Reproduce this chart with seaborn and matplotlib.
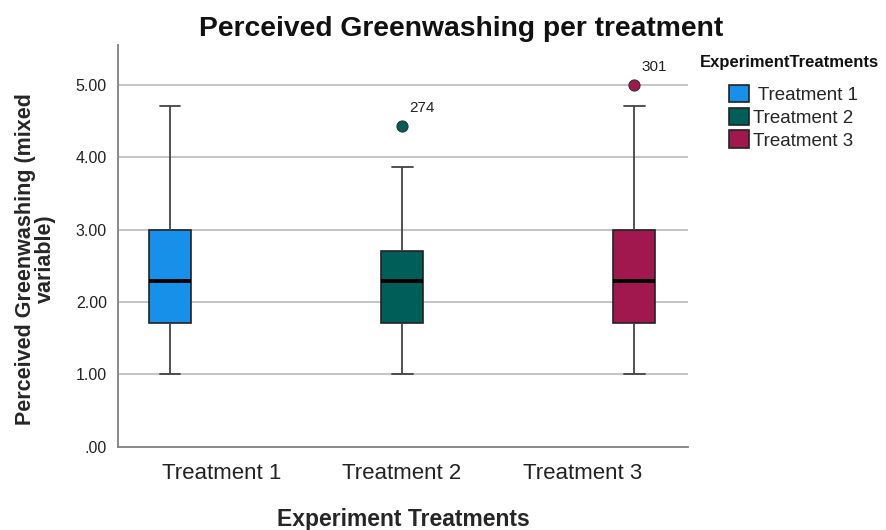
import matplotlib
matplotlib.use("Agg")
import matplotlib.pyplot as plt
import matplotlib.ticker as mticker
import pandas as pd
import seaborn as sns

# ------------------------------------------------------------------ #
# Data                              #
# ------------------------------------------------------------------ #
treatments = ["Treatment 1", "Treatment 2", "Treatment 3"]
legend_labels = [" Treatment 1", "Treatment 2", "Treatment 3"]
mins = [1.00, 1.00, 1.00]
q1s = [1.71, 1.71, 1.71]
medians = [2.29, 2.29, 2.29]
q3s = [3.00, 2.71, 3.00]
whisker_hi = [4.71, 3.86, 4.71]
outliers = [None, 4.43, 5.00]
outlier_ids = ["", "274", "301"]

colors = ["#1690E8", "#005E58", "#A0184E"]
yticks = [0, 1, 2, 3, 4, 5]

# build a small table whose quartiles reproduce the summary above
rows = []
for t, lo, a, m, b, hi, out in zip(treatments, mins, q1s, medians, q3s, whisker_hi, outliers):
    top = hi if out is None else out
    for v in [lo, a, a, m, m, b, b, hi, top]:
        rows.append({"treatment": t, "value": v})
df = pd.DataFrame(rows)

sns.set_style("white")
plt.rcParams["font.family"] = ["Liberation Sans", "DejaVu Sans"]

fig = plt.figure(figsize=(8.87, 5.30), dpi=100)
ax = fig.add_axes([0.133, 0.157, 0.643, 0.758])

sns.boxplot(
    data=df, x="treatment", y="value", hue="treatment",
    order=treatments, hue_order=treatments, palette=colors, saturation=1,
    dodge=False, width=0.18, whis=1.5, linewidth=1.2, linecolor="#222222",
    medianprops={"color": "black", "linewidth": 2.8},
    whiskerprops={"color": "#444444", "linewidth": 1.3},
    capprops={"color": "#444444", "linewidth": 1.3},
    showfliers=False, legend=True, ax=ax, zorder=3,
)

# outliers, drawn in the colour of their box and labelled with case id
for i, (out, cid) in enumerate(zip(outliers, outlier_ids)):
    if out is None:
        continue
    ax.plot(i, out, "o", ms=8, mfc=colors[i], mec="#333333", mew=0.8, zorder=5, clip_on=False)
    ax.annotate(cid, (i, out), xytext=(5, 10), textcoords="offset points",
                fontsize=11, color="#222222")

ax.set_ylim(0, 5.55)
ax.set_xlim(-0.224, 2.233)
ax.set_yticks(yticks)
ax.yaxis.set_major_formatter(mticker.FuncFormatter(
    lambda v, p: f"{v:.2f}"[1:] if v == 0 else f"{v:.2f}"))
ax.set_xticks([0.224, 1.0, 1.776], treatments)
ax.tick_params(axis="x", labelsize=16, colors="#222222", length=0, pad=12)
ax.tick_params(axis="y", labelsize=11.5, colors="#222222", length=0, pad=8)

for v in yticks[1:]:
    ax.axhline(v, color="#c4c4c4", linewidth=1.4, zorder=0)

for s in ["top", "right"]:
    ax.spines[s].set_visible(False)
for s in ["left", "bottom"]:
    ax.spines[s].set_color("#808080")
    ax.spines[s].set_linewidth(1.3)

ax.set_xlabel("Experiment Treatments", fontsize=16.5, fontweight="bold", labelpad=17)
ax.set_ylabel("Perceived Greenwashing (mixed\nvariable)", fontsize=15.5,
              fontweight="bold", linespacing=0.95)
ax.yaxis.set_label_coords(-0.108, 0.468)
fig.text(0.52, 0.945, "Perceived Greenwashing per treatment", fontsize=20.3,
         fontweight="bold", ha="center", va="center", color="#111111")

# legend: SPSS style, title above indented swatches
handles = ax.get_legend().legend_handles
ax.get_legend().remove()
fig.text(0.789, 0.883, "ExperimentTreatments", fontsize=12, fontweight="bold",
         ha="left", va="center", color="#111111")
fig.legend(handles, legend_labels, loc="upper left", bbox_to_anchor=(0.822, 0.84),
           frameon=False, fontsize=13.5, handlelength=1.05, handleheight=1.05,
           handletextpad=0.25, labelspacing=0.2, borderpad=0, borderaxespad=0)

fig.savefig("out.png", dpi=100)
